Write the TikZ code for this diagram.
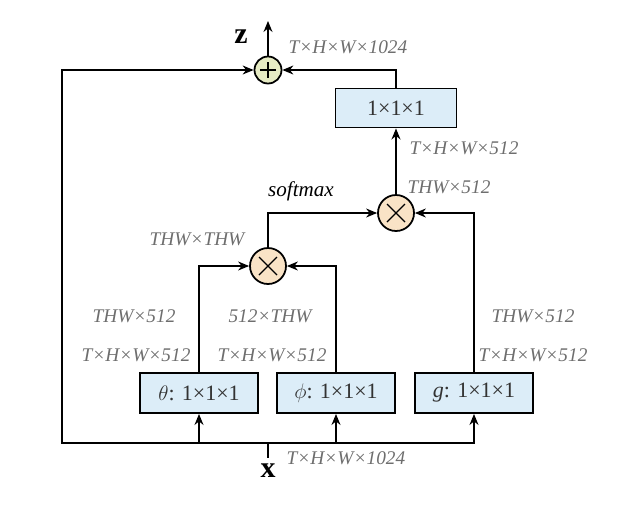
\documentclass[tikz,border=0pt]{standalone}
\usepackage{fontspec}
\setmainfont{Liberation Serif}
\usepackage{xcolor}
\usepackage{tikz}
\usetikzlibrary{arrows.meta}

\definecolor{boxblue}{HTML}{DCEDF8}
\definecolor{sumgreen}{HTML}{E6EBC4}
\definecolor{mulorange}{HTML}{F9E3C6}
\definecolor{dimgray}{HTML}{6E6E6E}
\definecolor{boxtext}{HTML}{333333}

\begin{document}
\begin{tikzpicture}[x=0.02cm, y=-0.02cm, line width=0.75pt,
    convbox/.style={draw, line width=1.1pt, fill=boxblue, text=boxtext, minimum width=2.36cm, minimum height=0.8cm, inner sep=0pt, font=\fontsize{12.5}{14}\selectfont},
    sumnode/.style={circle, draw, line width=1pt, fill=sumgreen, minimum size=0.54cm, inner sep=0pt},
    mulnode/.style={circle, draw, line width=1pt, fill=mulorange, minimum size=0.72cm, inner sep=0pt},
    dimlabel/.style={text=dimgray, font=\fontsize{11}{13}\selectfont\itshape},
    arr/.style={-{Stealth[length=2.2mm, width=1.8mm]}}]
   	\useasboundingbox (0,0) rectangle (627,508);
   	% operations
   	\node[sumnode] at (268,70) (sum) {};
   	\node[mulnode] at (396,213) (m2) {};
   	\node[mulnode] at (268,266) (m1) {};
   	\draw (sum) +(-8,0) -- +(8,0);
   	\draw (sum) +(0,-8) -- +(0,8);
   	\draw (m2) +(-9,-9) -- +(9,9);
   	\draw (m2) +(-9,9) -- +(9,-9);
   	\draw (m1) +(-9,-9) -- +(9,9);
   	\draw (m1) +(-9,9) -- +(9,-9);
   	% convolutions
   	\node[convbox, minimum width=2.42cm, minimum height=0.78cm] at (396,108) (out) {1×1×1};
   	\foreach \n/\xx/\t in {theta/199/{$\theta$: 1×1×1}, phi/336/{$\phi$: 1×1×1}, g/474/{\textit{g}: 1×1×1}}
       		\node[convbox] at (\xx,393) (\n) {\t};
   	% input and output
   	\node[font=\fontsize{17}{19}\selectfont\bfseries] at (268,471) (x) {x};
   	\node[font=\fontsize{17}{19}\selectfont\bfseries] at (241,37) (z) {z};
   	\coordinate (split) at (268,443);
   	\coordinate (bl) at (62,443);
   	\coordinate (ztop) at (268,21);
   	% connectors
   	\draw (x) -- (split);
   	\draw[arr] (split) -| (theta.south);
   	\draw[arr] (split) -| (phi.south);
   	\draw[arr] (split) -| (g.south);
   	\draw[arr] (split) -- (bl) |- (sum.west);
   	\draw[arr] (theta.north) |- (m1.west);
   	\draw[arr] (phi.north) |- (m1.east);
   	\draw[arr] (m1.north) |- (m2.west);
   	\draw[arr] (g.north) |- (m2.east);
   	\draw[arr] (m2.north) -- (out.south);
   	\draw[arr] (out.north) |- (sum.east);
   	\draw[arr] (sum.north) -- (ztop);
   	% sizes
   	\node[dimlabel] at (348,47) (l1) {T×H×W×1024};
   	\node[dimlabel] at (464,148) (l2) {T×H×W×512};
   	\node[dimlabel] at (449,187) (l3) {THW×512};
   	\node[font=\fontsize{12}{14}\selectfont\itshape] at (301,191) (l4) {softmax};
   	\node[dimlabel] at (197,239) (l5) {THW×THW};
   	\node[dimlabel] at (134,316) (l6) {THW×512};
   	\node[dimlabel] at (136,355) (l7) {T×H×W×512};
   	\node[dimlabel] at (270,316) (l8) {512×THW};
   	\node[dimlabel] at (272,355) (l9) {T×H×W×512};
   	\node[dimlabel] at (533,316) (l10) {THW×512};
   	\node[dimlabel] at (533,355) (l11) {T×H×W×512};
   	\node[dimlabel] at (346,458) (l12) {T×H×W×1024};
\end{tikzpicture}
\end{document}
